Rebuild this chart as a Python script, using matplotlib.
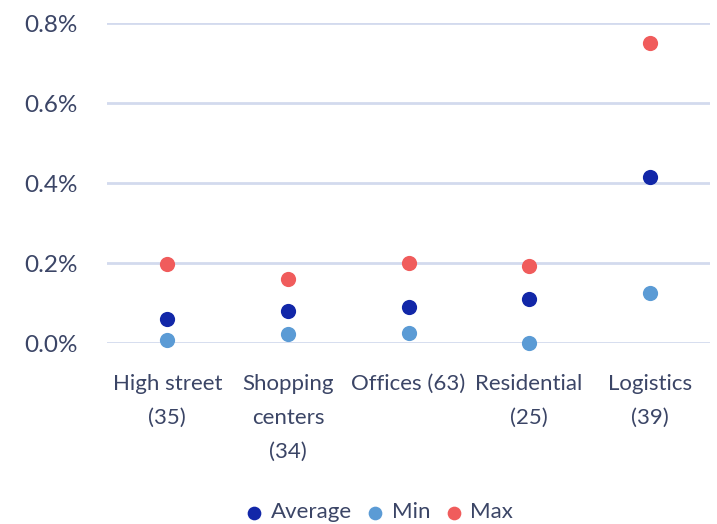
import matplotlib
matplotlib.use("Agg")
import matplotlib.pyplot as plt
from matplotlib.ticker import FuncFormatter

categories = ["High street\n(35)", "Shopping\ncenters\n(34)", "Offices (63)", "Residential\n(25)", "Logistics\n(39)"]
average = [0.060, 0.081, 0.091, 0.110, 0.416]
minimum = [0.008, 0.023, 0.025, 0.001, 0.124]
maximum = [0.197, 0.160, 0.200, 0.193, 0.749]
yticks = [0.0, 0.2, 0.4, 0.6, 0.8]

text_color = "#3b4566"
grid_color = "#d3daee"
c_avg, c_min, c_max = "#1227a8", "#5b9bd5", "#f05c5c"

plt.rcParams["font.family"] = ["Lato", "DejaVu Sans"]

fig = plt.figure(figsize=(7.17, 5.24), dpi=100)
ax = fig.add_axes([107 / 717, 1 - 343 / 524, 603 / 717, 320 / 524])

x = list(range(len(categories)))
s = 120
ax.scatter(x, average, s=s, color=c_avg, label="Average", zorder=3, clip_on=False, linewidths=0)
ax.scatter(x, minimum, s=s, color=c_min, label="Min", zorder=3, clip_on=False, linewidths=0)
ax.scatter(x, maximum, s=s, color=c_max, label="Max", zorder=3, clip_on=False, linewidths=0)

ax.set_xlim(-0.5, len(categories) - 0.5)
ax.set_ylim(0, 0.8)
ax.set_yticks(yticks)
ax.yaxis.set_major_formatter(FuncFormatter(lambda v, p: f"{v:.1f}%"))
ax.set_xticks(x)
ax.set_xticklabels(categories, linespacing=1.9)

for sp in ax.spines.values():
    sp.set_visible(False)
ax.grid(axis="y", color=grid_color, linewidth=2, zorder=0)
ax.set_axisbelow(True)
ax.tick_params(axis="both", length=0, labelcolor=text_color)
ax.tick_params(axis="x", labelsize=16, pad=22)
ax.tick_params(axis="y", labelsize=17.5, pad=21)

leg = fig.legend(loc="center", bbox_to_anchor=(0.528, 0.022), ncol=3, frameon=False,
                 fontsize=16, handlelength=0.9, handletextpad=0.3, columnspacing=0.6,
                 markerscale=0.9, labelcolor=text_color)

fig.savefig("out.png", dpi=100)
